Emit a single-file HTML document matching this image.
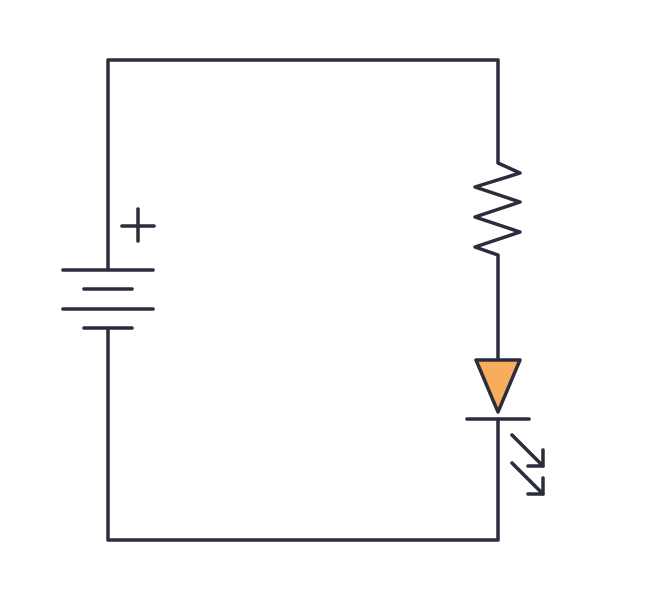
<!DOCTYPE html>
<html><head><style>body{margin:0;background:#fff}</style></head><body>
<svg width="648" height="600" viewBox="0 0 648 600" xmlns="http://www.w3.org/2000/svg">
<g fill="none" stroke="#2b2d3c" stroke-width="3.5" stroke-linecap="round" stroke-linejoin="round">
<polyline points="108,270 108,60 498,60 498,163 520,173 475,187 520,202 475,217 520,232 475,247 498,255 498,360"/>
<polyline points="108,328 108,540 498,540 498,419"/>
<line x1="63" y1="270" x2="153" y2="270"/>
<line x1="84" y1="289" x2="132" y2="289"/>
<line x1="63" y1="309" x2="153" y2="309"/>
<line x1="84" y1="328" x2="132" y2="328"/>
<line x1="122" y1="226" x2="154" y2="226"/>
<line x1="138" y1="209" x2="138" y2="241"/>
<path d="M476,360 L520,360 L498,412 Z" fill="#f8ac5e"/>
<line x1="467" y1="419" x2="529" y2="419"/>
<line x1="512" y1="435" x2="543" y2="466"/>
<polyline points="543,450 543,466 528,466"/>
<line x1="512" y1="463" x2="543" y2="494"/>
<polyline points="543,478 543,494 528,494"/>
</g>
</svg>
</body></html>
